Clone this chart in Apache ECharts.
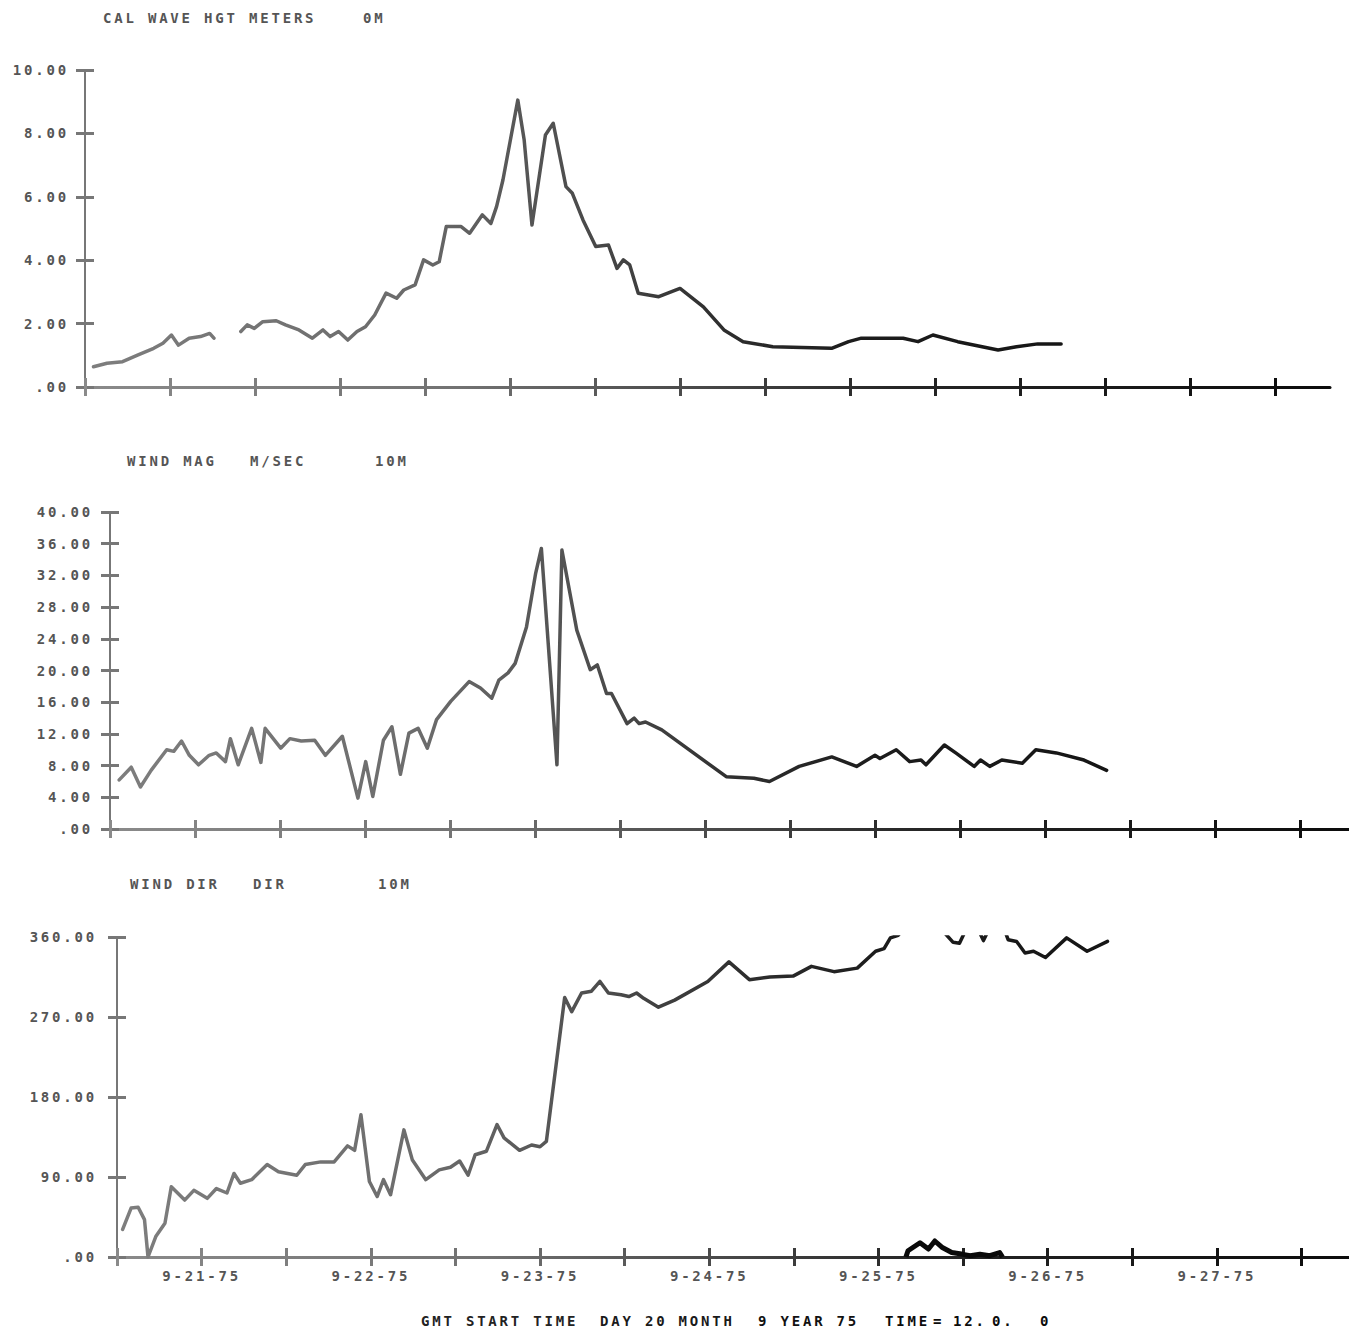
<!DOCTYPE html>
<html><head><meta charset="utf-8">
<script src="https://cdn.jsdelivr.net/npm/echarts@6/dist/echarts.min.js"></script>
<style>
html,body{margin:0;padding:0;background:#fff;}
#c{width:1349px;height:1331px;}
#c svg text{letter-spacing:2.8px;}
</style></head><body><div id="c"></div>
<script>
// ---- data (hours since GMT start 9-20-75 12:00) ----
const tickHours = [0,12,24,36,48,60,72,84,96,108,120,132,144,156,168];
const dateHours = [12,36,60,84,108,132,156];
const dateLabels = ['9-21-75','9-22-75','9-23-75','9-24-75','9-25-75','9-26-75','9-27-75'];

const waveHours = [1.2,3.1,5.3,7.5,9.7,11.0,12.2,13.2,14.7,16.3,17.6,18.2,
  20.0,
  22.0,22.9,23.9,25.1,27.0,28.3,30.2,32.1,33.6,34.6,
  35.8,37.1,38.4,39.6,40.9,42.5,44.0,45.0,46.6,47.8,
  49.1,50.0,51.0,53.1,54.3,56.1,57.3,58.1,59.0,61.1,
  62.0,63.1,65.0,66.1,67.9,68.8,70.3,72.1,73.9,75.1,
  76.0,76.9,78.1,81.0,84.0,87.3,90.2,92.9,97.1,105.4,
  107.8,109.6,115.5,117.6,119.7,123.2,128.9,131.5,134.5,137.8];
const waveValues = [0.64,0.75,0.80,1.01,1.22,1.38,1.64,1.32,1.54,1.59,1.69,1.54,
  '-',
  1.75,1.96,1.85,2.06,2.09,1.96,1.80,1.54,1.80,1.59,
  1.75,1.48,1.75,1.90,2.27,2.96,2.80,3.06,3.22,4.01,
  3.85,3.95,5.06,5.06,4.85,5.43,5.16,5.69,6.53,9.05,
  7.79,5.11,7.95,8.32,6.32,6.11,5.27,4.43,4.48,3.74,
  4.01,3.85,2.96,2.85,3.11,2.53,1.80,1.43,1.27,1.22,
  1.43,1.54,1.54,1.43,1.64,1.43,1.17,1.27,1.36,1.36];

const windHours = [1.3,3.0,4.3,5.8,8.0,9.0,10.1,11.2,12.5,14.0,
  15.0,16.3,17.0,18.1,20.0,21.3,21.9,24.1,25.4,27.0,
  28.9,30.4,32.8,35.0,36.1,37.1,38.6,39.8,41.0,42.2,
  43.5,44.8,46.1,48.1,50.7,52.3,53.9,54.9,56.2,57.2,
  58.8,60.1,60.9,63.1,63.8,65.9,67.8,68.8,70.1,70.8,
  73.0,74.0,74.7,75.6,77.9,87.0,90.9,93.1,97.3,101.9,
  105.4,108.0,108.7,111.0,112.9,114.5,115.2,117.8,119.4,122.0,
  122.9,124.2,125.9,128.8,130.7,133.6,137.5,140.7];
const windValues = [6.2,7.8,5.3,7.4,10.0,9.8,11.1,9.3,8.1,9.3,
  9.6,8.5,11.4,8.1,12.7,8.4,12.7,10.2,11.4,11.1,
  11.2,9.3,11.7,3.9,8.5,4.1,11.2,12.9,6.9,12.1,
  12.7,10.2,13.8,16.1,18.6,17.8,16.5,18.8,19.7,20.9,
  25.5,32.3,35.4,8.1,35.2,25.1,20.1,20.7,17.1,17.1,
  13.3,14.0,13.3,13.5,12.5,6.6,6.4,6.0,7.9,9.1,
  7.9,9.3,8.9,10.0,8.5,8.7,8.1,10.6,9.6,7.9,
  8.7,7.9,8.7,8.3,10.0,9.6,8.7,7.4];

const dirHours = [0.8,2.0,3.0,3.9,4.4,5.5,6.8,7.7,9.6,10.9,
  12.8,14.1,15.6,16.6,17.5,19.1,21.3,22.9,25.5,26.7,
  28.9,30.8,32.7,33.7,34.6,35.8,36.9,37.8,38.8,40.7,
  41.9,43.8,45.7,47.3,48.6,49.8,50.8,52.4,53.9,54.9,
  57.1,58.8,60.0,60.9,63.5,64.5,65.9,67.3,68.5,69.7,
  71.5,72.6,73.7,74.7,76.8,79.1,83.8,86.8,89.7,92.6,
  95.9,98.5,101.7,105.0,107.6,108.8,109.7,110.8,111.7,113.0,
  115.0,117.0,118.6,119.5,120.4,121.5,122.3,122.9,123.5,124.5,
  125.7,126.4,127.6,128.8,130.0,131.7,134.7,137.6,140.5];
const dirValues = [31,55,56,42,0,23,38,79,64,75,
  66,77,72,94,83,87,104,96,92,104,
  107,107,125,120,160,85,68,87,70,143,
  109,87,98,101,108,92,115,119,149,134,
  120,126,124,130,292,276,297,299,310,297,
  295,293,297,291,281,289,310,332,312,315,
  316,327,321,325,344,347,359,362,370,376,
  380,368,354,353,368,374,366,356,366,376,
  372,357,355,342,344,337,359,344,355];
// direction values past 360 degrees, re-plotted from 0
const dirWrapHours = [111.9,112.2,113.9,115.1,116.0,117.0,118.4,120.0,121.0,122.4,123.8,125.2,125.6];
const dirWrapValues = [0,7,16,9,18,11,5,3,1.5,3,1.5,5,0];

// ---- layout / style ----
const FONT = '"DejaVu Sans Mono", "Liberation Mono", monospace';
const panels = [
  {left:85,  top:70,  width:1245, height:317, ymax:10,  yint:2,  xmax:175.76, lm:16},
  {left:110, top:512, width:1239, height:317, ymax:40,  yint:4,  xmax:174.92, lm:17},
  {left:117, top:937, width:1232, height:320, ymax:360, yint:90, xmax:174.75, lm:20}
];
function grad(x0, x1, stops) {
  return new echarts.graphic.LinearGradient(x0, 0, x1, 0,
    stops.map(s => ({offset: s[0], color: s[1]})), true);
}
const axisStops = [[0,'#8a8a8a'],[0.3,'#727272'],[0.5,'#474747'],[0.65,'#262626'],[1,'#0c0c0c']];
const lineStops = [[0,'#7e7e7e'],[0.25,'#6c6c6c'],[0.38,'#505050'],[0.5,'#303030'],[0.62,'#1c1c1c'],[1,'#0e0e0e']];
function pairs(xs, ys) { return xs.map((x, i) => [x, ys[i]]); }
function yFmt(v) { return v === 0 ? '.00' : v.toFixed(2); }

const grids = [], xAxes = [], yAxes = [];
panels.forEach((p, i) => {
  grids.push({left:p.left, top:p.top, width:p.width, height:p.height, containLabel:false, outerBoundsMode:'none'});
  const ag = grad(p.left, p.left + p.width, axisStops);
  [false, true].forEach(inside => {
    xAxes.push({
      type:'value', gridIndex:i, min:0, max:p.xmax, position:'bottom',
      axisLine:{show:!inside, onZero:false, lineStyle:{color:ag, width:3}},
      axisTick:{show:true, inside:inside, length:9, customValues:tickHours, lineStyle:{color:ag, width:3}},
      axisLabel:{show:(i === 2 && !inside), customValues:dateHours, margin:12,
        formatter: v => dateLabels[dateHours.indexOf(v)] || '',
        color: (v) => (dateHours.indexOf(v) < 3 ? '#555' : (dateHours.indexOf(v) < 4 ? '#333' : '#0c0c0c')),
        fontFamily:FONT, fontWeight:'bold', fontSize:14},
      splitLine:{show:false}
    });
    yAxes.push({
      type:'value', gridIndex:i, min:0, max:p.ymax, interval:p.yint, position:'left',
      axisLine:{show:!inside, onZero:false, lineStyle:{color:'#777', width:2}},
      axisTick:{show:true, inside:inside, length:9, lineStyle:{color:'#777', width:3}},
      axisLabel:{show:!inside, margin:p.lm, formatter:yFmt, color:'#555',
        fontFamily:FONT, fontWeight:'bold', fontSize:14},
      splitLine:{show:false}
    });
  });
});

function lineSeries(gi, data, width) {
  const p = panels[gi];
  const c = grad(p.left, p.left + p.width, lineStops);
  return {type:'line', xAxisIndex:gi*2, yAxisIndex:gi*2, data:data, symbol:'none', showSymbol:false,
    clip:true, connectNulls:false, animation:false,
    itemStyle:{color:'#222'},
    lineStyle:{color:c, width:width, join:'round', cap:'round'}};
}
const series = [
  lineSeries(0, pairs(waveHours, waveValues), 3.5),
  lineSeries(1, pairs(windHours, windValues), 3.5),
  lineSeries(2, pairs(dirHours, dirValues), 3.5),
  Object.assign(lineSeries(2, pairs(dirWrapHours, dirWrapValues), 5), {lineStyle:{color:'#0a0a0a', width:5, join:'round'}})
];

function txt(text, x, y, color) {
  return {type:'text', x:x, y:y, silent:true,
    style:{text:text, fill:color, font:'bold 14px ' + FONT, verticalAlign:'middle', align:'left'}};
}
const graphics = [
  txt('CAL WAVE HGT METERS', 103, 18, '#555'), txt('0M', 363, 18, '#555'),
  txt('WIND MAG', 127, 461, '#555'), txt('M/SEC', 250, 461, '#555'), txt('10M', 375, 461, '#555'),
  txt('WIND DIR', 130, 884, '#555'), txt('DIR', 253, 884, '#555'), txt('10M', 378, 884, '#555'),
  txt('GMT START TIME', 421, 1321, '#222'), txt('DAY 20 MONTH', 600, 1321, '#1a1a1a'),
  txt('9 YEAR 75', 758, 1321, '#111'), txt('TIME', 885, 1321, '#0c0c0c'), txt('=', 933, 1321, '#0c0c0c'),
  txt('12.', 953, 1321, '#0c0c0c'), txt('0.', 992, 1321, '#0c0c0c'), txt('0', 1040, 1321, '#0c0c0c')
];

const chart = echarts.init(document.getElementById('c'), null, {renderer:'svg', width:1349, height:1331});
chart.setOption({
  animation:false,
  backgroundColor:'#ffffff',
  grid:grids, xAxis:xAxes, yAxis:yAxes, series:series,
  graphic:graphics
});
</script></body></html>
